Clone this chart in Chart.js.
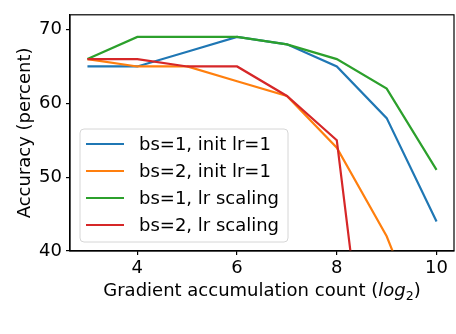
<!DOCTYPE html>
<html>
<head>
<meta charset="utf-8">
<script src="https://cdn.jsdelivr.net/npm/chart.js@4/dist/chart.umd.min.js"></script>
<style>
  html, body { margin: 0; padding: 0; background: #fff; }
  #wrap { width: 456px; height: 334px; position: relative; }
</style>
</head>
<body>
<div id="wrap"><canvas id="chart" width="456" height="334"></canvas></div>
<script>
// ---- data ----
const xSteps = [3, 4, 5, 6, 7, 8, 9, 10];
const seriesNames = ['bs=1, init lr=1', 'bs=2, init lr=1', 'bs=1, lr scaling', 'bs=2, lr scaling'];
const bs1Init = [65, 65, 67, 69, 68, 65, 58, 44];
const bs2Init = [66, 65, 65, 63, 61, 54, 42, 25];
const bs1Scale = [66, 69, 69, 69, 68, 66, 62, 51];
const bs2Scale = [66, 66, 65, 65, 61, 55, 0, 0];
const xTicks = [4, 6, 8, 10];
const yTicks = [40, 50, 60, 70];
const colors = ['#1f77b4', '#ff7f0e', '#2ca02c', '#d62728'];

const FONT = '"DejaVu Sans", sans-serif';
const FS = 18;

function toPoints(vals) {
  return vals.map((v, i) => ({ x: xSteps[i], y: v }));
}

const allSeries = [bs1Init, bs2Init, bs1Scale, bs2Scale];
const datasets = allSeries.map((vals, i) => ({
  label: seriesNames[i],
  data: toPoints(vals),
  borderColor: colors[i],
  backgroundColor: colors[i],
  borderWidth: 2.2,
  pointRadius: 0,
  tension: 0,
  clip: 0,
  order: allSeries.length - i // later series drawn on top, like matplotlib
}));

// frame, axis titles and legend drawn by hand (matplotlib look)
const decorPlugin = {
  id: 'decor',
  afterDraw(chart) {
    const { ctx, chartArea: a } = chart;
    ctx.save();
    // spines
    ctx.strokeStyle = '#000';
    ctx.lineWidth = 1.2;
    ctx.strokeRect(a.left, a.top, a.right - a.left, a.bottom - a.top);

    // y title
    ctx.fillStyle = '#000';
    ctx.font = `${FS}px ${FONT}`;
    ctx.textAlign = 'center';
    ctx.textBaseline = 'middle';
    ctx.save();
    ctx.translate(25, (a.top + a.bottom) / 2);
    ctx.rotate(-Math.PI / 2);
    ctx.fillText('Accuracy (percent)', 0, 0);
    ctx.restore();

    // x title with italic log and subscript 2
    const parts = [
      { t: 'Gradient accumulation count (', f: `${FS}px ${FONT}`, dy: 0 },
      { t: 'log', f: `italic ${FS}px ${FONT}`, dy: 0 },
      { t: '2', f: `${FS * 0.7}px ${FONT}`, dy: 4 },
      { t: ')', f: `${FS}px ${FONT}`, dy: 0 }
    ];
    let total = 0;
    parts.forEach(p => { ctx.font = p.f; p.w = ctx.measureText(p.t).width; total += p.w; });
    let x = (a.left + a.right) / 2 - total / 2;
    ctx.textAlign = 'left';
    ctx.textBaseline = 'alphabetic';
    parts.forEach(p => { ctx.font = p.f; ctx.fillText(p.t, x, 296 + p.dy); x += p.w; });

    // legend box
    const lx = 80, ly = 129, lw = 208, lh = 113, r = 4;
    ctx.beginPath();
    ctx.roundRect(lx, ly, lw, lh, r);
    ctx.fillStyle = 'rgba(255,255,255,0.8)';
    ctx.fill();
    ctx.strokeStyle = '#d6d6d6';
    ctx.lineWidth = 1;
    ctx.stroke();
    ctx.font = `${FS}px ${FONT}`;
    ctx.textBaseline = 'middle';
    seriesNames.forEach((name, i) => {
      const yy = 144 + i * 27;
      ctx.beginPath();
      ctx.moveTo(86, yy);
      ctx.lineTo(124, yy);
      ctx.strokeStyle = colors[i];
      ctx.lineWidth = 2.2;
      ctx.stroke();
      ctx.fillStyle = '#000';
      ctx.fillText(name, 139, yy + 1);
    });
    ctx.restore();
  }
};

new Chart(document.getElementById('chart'), {
  type: 'line',
  data: { datasets },
  options: {
    responsive: false,
    animation: false,
    layout: { padding: { top: 2, right: 2, left: 0, bottom: 0 } },
    plugins: { legend: { display: false }, tooltip: { enabled: false } },
    scales: {
      x: {
        type: 'linear',
        min: 2.65,
        max: 10.35,
        afterBuildTicks: s => { s.ticks = xTicks.map(v => ({ value: v })); },
        afterFit: s => { s.height = 83; },
        grid: { drawOnChartArea: false, drawTicks: true, tickLength: 4, color: '#000', lineWidth: 1.2 },
        border: { display: true, color: '#000', width: 1.2 },
        ticks: { color: '#000', font: { family: FONT, size: FS }, padding: 3, maxRotation: 0 }
      },
      y: {
        min: 40,
        max: 72,
        afterBuildTicks: s => { s.ticks = yTicks.map(v => ({ value: v })); },
        afterFit: s => { s.width = 70; },
        grid: { drawOnChartArea: false, drawTicks: true, tickLength: 4, color: '#000', lineWidth: 1.2 },
        border: { display: true, color: '#000', width: 1.2 },
        ticks: { color: '#000', font: { family: FONT, size: FS }, padding: 4 }
      }
    }
  },
  plugins: [decorPlugin]
});
</script>
</body>
</html>
